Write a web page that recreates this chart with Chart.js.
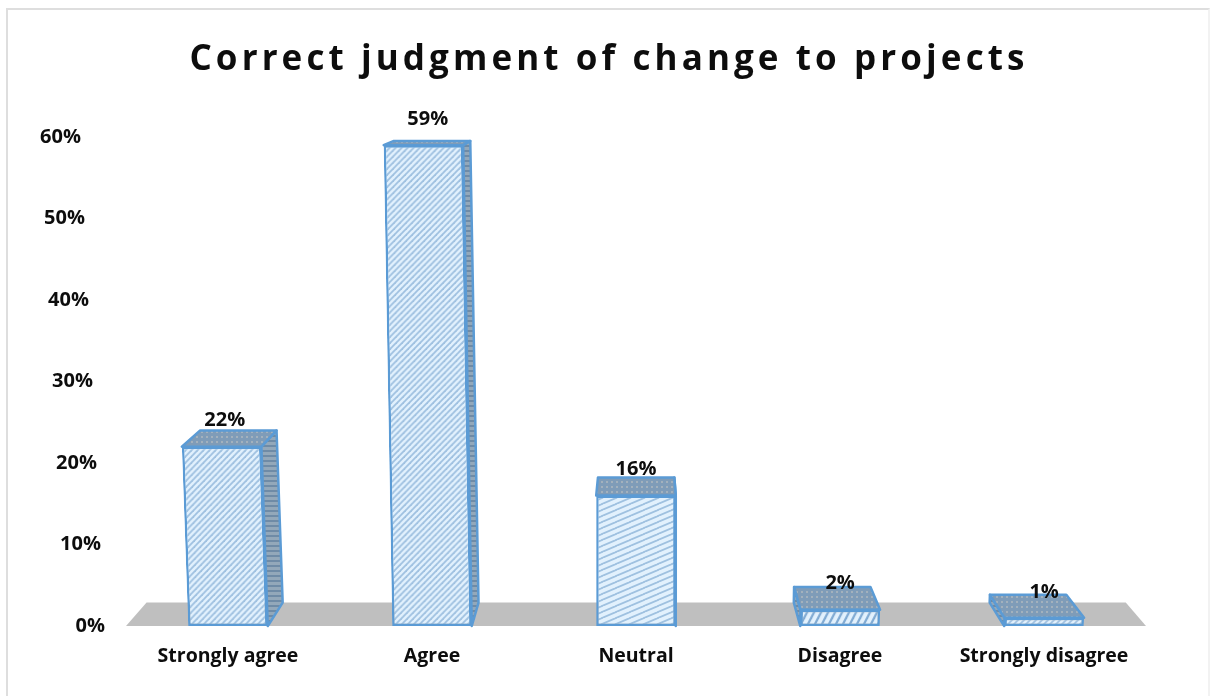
<!DOCTYPE html>
<html><head><meta charset="utf-8">
<style>
html,body{margin:0;padding:0;background:#fff;overflow:hidden}
#frame{position:absolute;left:6px;top:8px;width:1200px;height:700px;border:2px solid #dedede;border-right-color:#f2f2f2}
canvas{position:absolute;left:0;top:0}
</style>
<script src="https://cdn.jsdelivr.net/npm/chart.js@4"></script>
</head><body>
<div id="frame"></div>
<canvas id="c" width="1211" height="696"></canvas>
<script>
const categories = ["Strongly agree","Agree","Neutral","Disagree","Strongly disagree"];
const percentValues = [22,59,16,2,1];
const chartTitle = "Correct judgment of change to projects";

function tile(w,h,paint){
  const t=document.createElement('canvas'); t.width=w; t.height=h;
  const g=t.getContext('2d'); paint(g,w,h);
  return document.getElementById('c').getContext('2d').createPattern(t,'repeat');
}
function hatch(w,h,bg,line,lw){
  return tile(w,h,(g)=>{
    g.fillStyle=bg; g.fillRect(0,0,w,h);
    g.strokeStyle=line; g.lineWidth=lw;
    for(let i=-1;i<=1;i++){ g.beginPath(); g.moveTo(i*w-1,h+h/w); g.lineTo(i*w+w+1,-h/w); g.stroke(); }
  });
}
const diagFill = hatch(6,6,'#e2f1fd','#9fc1e0',1.8);
const shallowFill = hatch(14,6,'#e2f1fd','#9fc1e0',1.8);
const steepFill = hatch(7,14,'#e2f1fd','#7fa9d2',2.2);
const frontFills = [diagFill,diagFill,shallowFill,steepFill,diagFill];
const sideFill = tile(5,5,(g,w,h)=>{ g.fillStyle='#93a8ba'; g.fillRect(0,0,w,h); g.fillStyle='#6f8ba6'; g.fillRect(0,0,w,2); });
const topFill = tile(5,5,(g,w,h)=>{ g.fillStyle='#7f9cb8'; g.fillRect(0,0,w,h); g.fillStyle='#a3b1bd'; g.fillRect(1,1,2,2); });
const edge='#5b9bd5', floorColor='#bfbfbf', ink='#0d0d0d';
const labelFont='bold 20px "Open Sans"';

// perspective of the 3-D look, shared by every derived face
const VP={x:640,y:40}, depth=0.04, leanK=0.000087;
const back=p=>({x:p.x+(VP.x-p.x)*depth,y:p.y+(VP.y-p.y)*depth});
function poly(ctx,pts,fill,stroke){
  ctx.beginPath(); pts.forEach((p,i)=>i?ctx.lineTo(p.x,p.y):ctx.moveTo(p.x,p.y)); ctx.closePath();
  ctx.fillStyle=fill; ctx.fill();
  if(stroke){ctx.strokeStyle=stroke;ctx.lineWidth=2.5;ctx.lineJoin='round';ctx.stroke();}
}
function leanOf(el){ return leanK*(el.x-637); }

const pseudo3d={
  id:'pseudo3d',
  afterLayout(chart){
    const tb=chart.titleBlock;
    if(tb && !tb._wrapped){
      const d=tb.draw.bind(tb);
      tb.draw=function(){ const c=chart.ctx; c.save(); c.letterSpacing='4.1px'; c.translate(36,0); d(); c.restore(); };
      tb._wrapped=true;
    }
  },
  beforeDatasetsDraw(chart){
    const {ctx,chartArea:a}=chart;
    const l={x:a.left,y:a.bottom},r={x:a.right,y:a.bottom};
    poly(ctx,[l,r,back(r),back(l)],floorColor);
  },
  beforeDatasetDraw(chart,args){
    const ctx=chart.ctx;
    args.meta.data.forEach(el=>{
      const hw=el.width/2, base=el.base, s=leanOf(el)*(base-el.y);
      const tl={x:el.x-hw+s,y:el.y}, tr={x:el.x+hw+s,y:el.y};
      const bl={x:el.x-hw,y:base}, br={x:el.x+hw,y:base};
      if(el.x<VP.x) poly(ctx,[tr,br,back(br),back(tr)],sideFill,edge);
      else poly(ctx,[tl,bl,back(bl),back(tl)],sideFill,edge);
      poly(ctx,[tl,tr,back(tr),back(tl)],topFill,edge);
      ctx.save();
      ctx.transform(1,0,-leanOf(el),1,leanOf(el)*base,0);
      el.draw(ctx,chart.chartArea);
      ctx.restore();
    });
    return false;
  },
  afterDatasetsDraw(chart){
    const ctx=chart.ctx, y=chart.scales.y;
    ctx.save();
    ctx.font=labelFont; ctx.fillStyle=ink; ctx.textBaseline='middle';
    ctx.textAlign='center';
    chart.getDatasetMeta(0).data.forEach((el,i)=>{
      const s=leanOf(el)*(el.base-el.y)/2;
      ctx.fillText(percentValues[i]+'%',el.x+s,el.y-26);
    });
    ctx.textAlign='right';
    y.ticks.forEach(t=>{
      ctx.fillText(t.value+'%',105-0.4*t.value,y.getPixelForValue(t.value));
    });
    ctx.restore();
  }
};

new Chart(document.getElementById('c'),{
  type:'bar',
  data:{labels:categories,datasets:[{
    data:percentValues,backgroundColor:frontFills,borderColor:edge,borderWidth:2.5,borderSkipped:false,
    barPercentage:0.39,categoryPercentage:1
  }]},
  options:{
    responsive:false,animation:false,
    layout:{padding:{left:0,right:65,top:0,bottom:0}},
    plugins:{
      legend:{display:false},tooltip:{enabled:false},
      title:{display:true,text:chartTitle,color:'#0d0d0d',
        font:{family:'Open Sans',size:35,weight:'bold',lineHeight:1.2},
        padding:{top:39,bottom:56}}
    },
    scales:{
      x:{grid:{display:false},border:{display:false},
        ticks:{color:ink,font:{family:'Open Sans',size:19.5,weight:'bold'},padding:11,maxRotation:0},
        afterFit(s){s.height=70;}},
      y:{min:0,max:60,grid:{display:false},border:{display:false},
        ticks:{display:false,stepSize:10},
        afterFit(s){s.width=126;}}
    }
  },
  plugins:[pseudo3d]
});
</script>
</body></html>
